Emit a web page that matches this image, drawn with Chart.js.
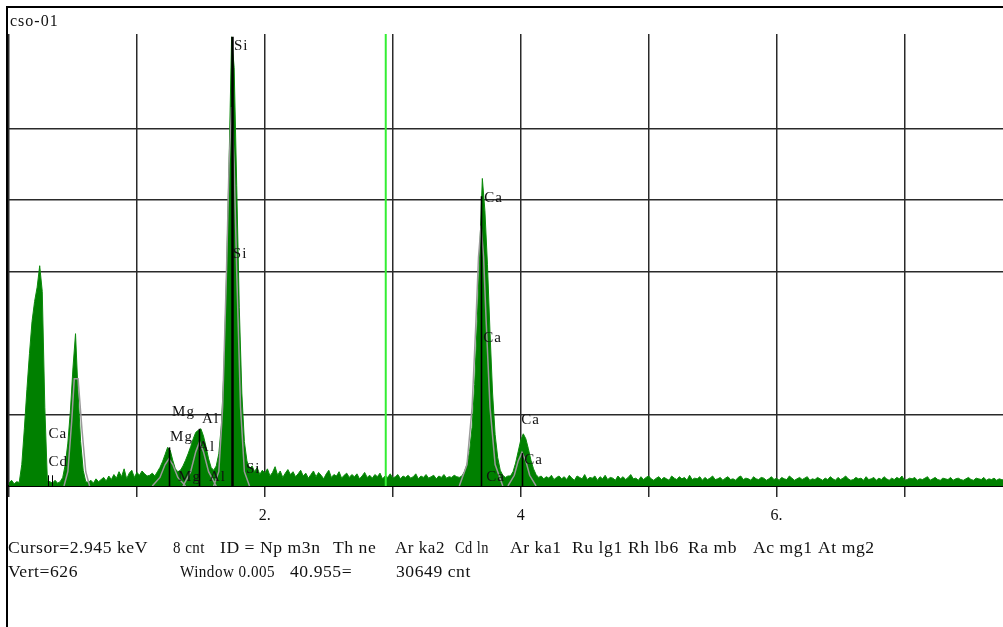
<!DOCTYPE html>
<html>
<head>
<meta charset="utf-8">
<script src="https://cdn.jsdelivr.net/npm/chart.js@4"></script>
<style>
  html, body { margin: 0; padding: 0; background: #fff; }
  #wrap { position: relative; width: 1003px; height: 627px; overflow: hidden; }
  #frame { position: absolute; left: 6px; top: 6px; width: 1000px; height: 625px;
           border-top: 2px solid #000; border-left: 2px solid #000; pointer-events: none; }
  .txt { position: absolute; font: 16px "Liberation Serif", serif; letter-spacing: 0.5px;
         color: #111; white-space: pre; line-height: 16px; transform-origin: 0 50%; }
</style>
</head>
<body>
<div id="wrap">
  <canvas id="spectrum" width="1003" height="627"></canvas>
  <div id="frame"></div>
  <div class="txt" style="left:10px;top:13px;letter-spacing:1px">cso-01</div>
  <div id="status"></div>
</div>
<script>
/* DADOS */
const channelWidth = 0.02; // keV por canal

const counts = [
  4, 8, 3, 6, 5, 30, 80, 135, 185, 230, 258, 278, 308, 272, 110, 8, 6,
  4, 8, 4, 6, 12, 30, 60, 105, 165, 213, 130, 62, 22, 6,
  5, 8, 4, 10, 6, 9, 12, 7, 14, 9, 16, 11, 20, 13, 24, 10, 18, 22, 12, 19, 15, 21, 17, 14,
  15, 18, 14, 20, 26, 34, 44, 54, 50, 36, 24, 20, 22, 28, 36, 45, 55, 66, 75, 78, 80, 70, 55, 38, 26,
  22, 28, 45, 85, 160, 290, 450, 628, 585, 420, 250, 130, 62, 35, 24, 28,
  20, 26, 16, 22, 18, 24, 14, 19, 27, 15, 21, 12, 18, 23, 16, 20, 13, 17, 22, 14,
  18, 11, 16, 21, 13, 19, 15, 10, 17, 22, 12, 16, 14, 20, 11, 15, 18, 12, 16, 13,
  17, 10, 14, 19, 12, 15, 11, 16, 13, 18, 10, 14, 12, 17, 11, 13, 16, 10, 14, 12,
  15, 11, 13, 17, 10, 14, 12, 16, 11, 13, 15, 10, 14, 12, 16, 11, 13, 12, 15, 13,
  12, 14, 20, 30, 48, 82, 142, 230, 330, 430, 385, 310, 215, 130, 72, 40, 22, 15, 12, 14,
  14, 20, 32, 48, 64, 73, 66, 52, 36, 24, 16, 12, 14, 10, 13, 11, 15, 9, 12, 14,
  10, 13, 9, 15, 11, 8, 14, 12, 10, 16, 9, 12, 11, 14, 8, 13, 10, 15, 9, 12,
  11, 8, 14, 10, 13, 9, 12, 16, 10, 11, 8, 13, 9, 12, 14, 10, 8, 11, 13, 9,
  12, 10, 8, 14, 11, 9, 13, 10, 12, 8, 15, 9, 11, 10, 13, 8, 12, 9, 11, 14,
  9, 10, 12, 8, 11, 13, 9, 10, 8, 12, 14, 9, 11, 10, 8, 13, 10, 9, 12, 11,
  8, 10, 13, 9, 11, 8, 12, 10, 9, 14, 11, 8, 10, 12, 9, 11, 13, 8, 10, 9,
  12, 10, 8, 11, 9, 13, 10, 8, 12, 9, 11, 14, 10, 8, 9, 12, 10, 11, 8, 13,
  9, 10, 12, 8, 11, 9, 13, 10, 8, 11, 9, 12, 10, 14, 8, 9, 11, 10, 12, 8,
  10, 9, 11, 13, 8, 10, 12, 9, 8, 11, 10, 9, 12, 8, 10, 11, 9, 8, 10, 12,
  9, 8, 11, 10, 9, 12, 8, 10, 9, 11, 8, 10, 9, 8
];

// curva ajustada (cinza), null separa os picos
const fitEnergy = [
  0.43, 0.46, 0.49, 0.51, 0.54, 0.57, 0.60, 0.63, null,
  1.12, 1.18, 1.22, 1.25, 1.28, 1.32, 1.38, null,
  1.36, 1.42, 1.46, 1.49, 1.52, 1.56, 1.62, null,
  1.60, 1.64, 1.67, 1.70, 1.72, 1.74, 1.76, 1.78, 1.81, 1.84, 1.88, null,
  3.52, 3.58, 3.62, 3.65, 3.67, 3.69, 3.71, 3.73, 3.76, 3.80, 3.86, null,
  3.90, 3.95, 3.98, 4.01, 4.04, 4.07, 4.12
];
const fitCounts = [
  0, 20, 90, 150, 150, 80, 20, 0, null,
  0, 12, 30, 38, 30, 12, 0, null,
  0, 20, 48, 62, 48, 20, 0, null,
  0, 20, 110, 300, 450, 530, 450, 300, 110, 20, 0, null,
  0, 30, 110, 230, 320, 364, 320, 230, 110, 30, 0, null,
  0, 15, 35, 47, 35, 15, 0
];

const cursorEnergy = 2.945;

// linhas de identificação (pretas)
const markerEnergy = [0.308, 0.340, 1.254, 1.487, 1.740, 3.691, 4.013];
const markerTop    = [15, 15, 54, 80, 628, 405, 46];

const peakLabels   = ['Si', 'Si', 'Si', 'Ca', 'Ca', 'Ca', 'Ca', 'Ca', 'Ca', 'Cd', 'Mg', 'Al', 'Mg', 'Al', 'Mg', 'Al'];
const labelEnergy  = [1.758, 1.750, 1.852, 3.715, 3.708, 4.004, 4.027, 3.730, 0.308, 0.308, 1.275, 1.509, 1.259, 1.478, 1.322, 1.563];
const labelCounts  = [615, 325, 24, 402, 207, 92, 36, 12, 73, 33, 103, 93, 68, 55, 13, 13];

const tickValues = [2, 4, 6];
const tickTexts  = ['2.', '4', '6.'];
const hiddenGrid = [200, 600];

// texto, início, fim (px)
const statusLine1 = [
  ['Cursor=2.945 keV', 8, 165], ['8 cnt', 173, 205], ['ID = Np m3n', 220, 325], ['Th ne', 333, 378],
  ['Ar ka2', 395, 445], ['Cd ln', 455, 482], ['Ar ka1', 510, 563], ['Ru lg1', 572, 625],
  ['Rh lb6', 628, 682], ['Ra mb', 688, 740], ['Ac mg1', 753, 813], ['At mg2', 818, 877]
];
const statusLine2 = [
  ['Vert=626', 8, 80], ['Window 0.005', 180, 275], ['40.955=', 290, 355], ['30649 cnt', 396, 478]
];

/* TEXTO DE STATUS */
const status = document.getElementById('status');
function addStatus(items, top) {
  items.forEach(([t, left, right]) => {
    const d = document.createElement('div');
    d.className = 'txt';
    d.style.left = left + 'px';
    d.style.top = top + 'px';
    d.textContent = t;
    status.appendChild(d);
    const w = d.getBoundingClientRect().width;
    if (w > 0) {
      const s = Math.min(1.1, Math.max(0.9, (right - left) / w));
      d.style.transform = `scaleX(${s})`;
    }
  });
}
addStatus(statusLine1, 540);
addStatus(statusLine2, 564);

/* GRÁFICO */
const spectrumPoints = counts.map((c, i) => ({ x: i * channelWidth, y: c }));
const fitPoints = fitEnergy.map((e, i) => (e === null ? { x: null, y: null } : { x: e, y: fitCounts[i] }));

const markersPlugin = {
  id: 'markers',
  afterDatasetsDraw(chart) {
    const { ctx, scales } = chart;
    const x = scales.x, y = scales.y;
    ctx.save();
    ctx.strokeStyle = '#000';
    markerEnergy.forEach((e, i) => {
      ctx.lineWidth = markerTop[i] > 500 ? 2.5 : (markerTop[i] < 20 ? 1 : 1.6);
      const px = Math.round(x.getPixelForValue(e)) + 0.5;
      ctx.beginPath();
      ctx.moveTo(px, y.getPixelForValue(0));
      ctx.lineTo(px, y.getPixelForValue(markerTop[i]));
      ctx.stroke();
    });
    ctx.fillStyle = '#111';
    ctx.font = '15px "Liberation Serif", serif';
    ctx.letterSpacing = '1px';
    ctx.textBaseline = 'middle';
    ctx.textAlign = 'left';
    peakLabels.forEach((t, i) => {
      ctx.fillText(t, x.getPixelForValue(labelEnergy[i]), y.getPixelForValue(labelCounts[i]));
    });
    ctx.restore();
  }
};

const ctx = document.getElementById('spectrum').getContext('2d');

const spectrumChart = new Chart(ctx, {
  type: 'line',
  data: {
    datasets: [
      {
        data: spectrumPoints,
        borderColor: '#0b8a0b',
        backgroundColor: '#008000',
        borderWidth: 1,
        fill: 'origin',
        pointRadius: 0,
        tension: 0,
        order: 3
      },
      {
        data: fitPoints,
        borderColor: '#9a9a9a',
        borderWidth: 1.5,
        fill: false,
        pointRadius: 0,
        spanGaps: false,
        order: 2
      },
      {
        data: [{ x: cursorEnergy, y: 0 }, { x: cursorEnergy, y: 632 }],
        borderColor: '#33ee33',
        borderWidth: 2,
        fill: false,
        pointRadius: 0,
        order: 1
      }
    ]
  },
  options: {
    responsive: false,
    animation: false,
    layout: { padding: { left: 7, top: 34, right: 0, bottom: 0 } },
    plugins: {
      legend: { display: false },
      tooltip: { enabled: false }
    },
    scales: {
      x: {
        type: 'linear',
        min: 0,
        max: 7.77,
        afterFit(scale) { scale.height = 141; },
        border: { color: '#000', width: 2 },
        grid: { color: '#2a2a2a', lineWidth: 1.5, tickLength: 11, drawTicks: true },
        ticks: {
          stepSize: 1,
          includeBounds: false,
          autoSkip: false,
          maxRotation: 0,
          padding: 9,
          color: '#111',
          font: { family: '"Liberation Serif", serif', size: 16 },
          callback: (v) => {
            const k = tickValues.indexOf(v);
            return k >= 0 ? tickTexts[k] : '';
          }
        }
      },
      y: {
        min: 0,
        max: 632,
        afterFit(scale) { scale.width = 0; },
        border: { display: false },
        grid: {
          drawTicks: false,
          lineWidth: 1.5,
          color: (c) => (hiddenGrid.includes(c.tick.value) ? 'rgba(0,0,0,0)' : '#2a2a2a')
        },
        ticks: { stepSize: 100, includeBounds: false, display: false }
      }
    }
  },
  plugins: [markersPlugin]
});
</script>
</body>
</html>
